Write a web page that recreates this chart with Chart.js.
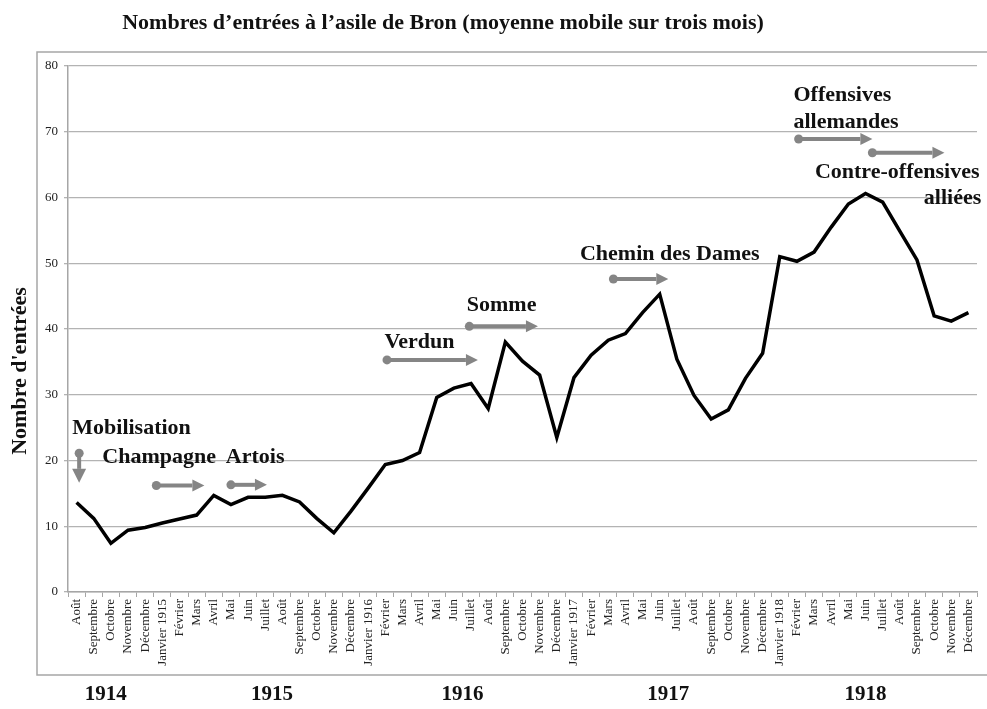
<!DOCTYPE html>
<html>
<head>
<meta charset="utf-8">
<script src="https://cdn.jsdelivr.net/npm/chart.js@4"></script>
<style>
  html, body { margin: 0; padding: 0; background: #fff; }
  #wrap { width: 987px; height: 709px; }
</style>
</head>
<body>
<div id="wrap"><canvas id="bronChart" width="987" height="709"></canvas></div>
<script>
// Months, Aug 1914 -> Dec 1918
const months = [
    'Août', 'Septembre', 'Octobre', 'Novembre', 'Décembre',
    'Janvier 1915', 'Février', 'Mars', 'Avril', 'Mai', 'Juin', 'Juillet', 'Août', 'Septembre', 'Octobre', 'Novembre', 'Décembre',
    'Janvier 1916', 'Février', 'Mars', 'Avril', 'Mai', 'Juin', 'Juillet', 'Août', 'Septembre', 'Octobre', 'Novembre', 'Décembre',
    'Janvier 1917', 'Février', 'Mars', 'Avril', 'Mai', 'Juin', 'Juillet', 'Août', 'Septembre', 'Octobre', 'Novembre', 'Décembre',
    'Janvier 1918', 'Février', 'Mars', 'Avril', 'Mai', 'Juin', 'Juillet', 'Août', 'Septembre', 'Octobre', 'Novembre', 'Décembre'
];

// three-month moving average of admissions
const entries = [
    13.6, 11.2, 7.4, 9.4, 9.8,
    10.5, 11.1, 11.7, 14.7, 13.3, 14.4, 14.4, 14.7, 13.7, 11.2, 9.0, 12.3,
    15.8, 19.4, 20.0, 21.2, 29.6, 31.0, 31.7, 27.9, 38.0, 35.1, 33.0, 23.5,
    32.6, 36.0, 38.3, 39.3, 42.5, 45.3, 35.4, 29.9, 26.3, 27.7, 32.5, 36.3,
    51.0, 50.3, 51.7, 55.5, 59.0, 60.6, 59.3, 54.9, 50.5, 42.0, 41.2, 42.5
];

const yTicks = [0, 10, 20, 30, 40, 50, 60, 70, 80];

// years under the axis, with the (fractional) month index they sit under
const years = ['1914', '1915', '1916', '1917', '1918'];
const yearPos = [1.7, 11.4, 22.5, 34.5, 46.0];

// military events: arrow start/end (month index) and level (entries)
const eventNames = ['Champagne', 'Artois', 'Verdun', 'Somme', 'Chemin des Dames', 'Offensives allemandes', 'Contre-offensives alliées'];
const eventStart = [4.65, 9.0, 18.1, 22.9, 31.3, 42.1, 46.4];
const eventEnd = [7.45, 11.1, 23.4, 26.9, 34.5, 46.4, 50.6];
const eventLevel = [16.2, 16.3, 35.3, 40.4, 47.6, 68.9, 66.8];
// mobilisation: vertical arrow at Aug 1914
const mobilIndex = 0.15;
const mobilFrom = 21.1;
const mobilTo = 16.6;

// text blocks for the events: [text, month index, level, align]
const eventTexts = [
    ['Mobilisation', -0.25, 24.9, 'left'],
    ['Champagne', 1.5, 20.5, 'left'],
    ['Artois', 8.7, 20.5, 'left'],
    ['Verdun', 17.95, 37.9, 'left'],
    ['Somme', 22.75, 43.6, 'left'],
    ['Chemin des Dames', 29.35, 51.4, 'left'],
    ['Offensives', 41.8, 75.5, 'left'],
    ['allemandes', 41.8, 71.4, 'left'],
    ['Contre-offensives', 43.05, 63.9, 'left'],
    ['alliées', 52.75, 59.9, 'right']
];

const SERIF = '"Liberation Serif", "Times New Roman", serif';
const ARROW = '#858585';

function drawArrow(ctx, x1, y1, x2, y2, head, half) {
    const ang = Math.atan2(y2 - y1, x2 - x1);
    const bx = x2 - head * Math.cos(ang), by = y2 - head * Math.sin(ang);
    ctx.save();
    ctx.strokeStyle = ARROW;
    ctx.fillStyle = ARROW;
    ctx.lineWidth = 4;
    ctx.beginPath();
    ctx.moveTo(x1, y1);
    ctx.lineTo(bx, by);
    ctx.stroke();
    ctx.beginPath();
    ctx.arc(x1, y1, 4.5, 0, Math.PI * 2);
    ctx.fill();
    ctx.beginPath();
    ctx.moveTo(x2, y2);
    ctx.lineTo(bx - half * Math.sin(ang), by + half * Math.cos(ang));
    ctx.lineTo(bx + half * Math.sin(ang), by - half * Math.cos(ang));
    ctx.closePath();
    ctx.fill();
    ctx.restore();
}

// px position of a fractional category index
function idxToX(xs, i) {
    const a = xs.getPixelForValue(0), b = xs.getPixelForValue(1);
    return a + (b - a) * i;
}

const decorations = {
    id: 'decorations',
    beforeDraw(chart) {
        const ctx = chart.ctx;
        ctx.save();
        ctx.fillStyle = '#fff';
        ctx.fillRect(0, 0, chart.width, chart.height);
        // outer frame
        ctx.strokeStyle = '#a6a6a6';
        ctx.lineWidth = 1.5;
        ctx.beginPath();
        ctx.moveTo(chart.width, 52);
        ctx.lineTo(37, 52);
        ctx.lineTo(37, 675);
        ctx.lineTo(chart.width, 675);
        ctx.stroke();
        ctx.restore();
    },
    afterDraw(chart) {
        const ctx = chart.ctx;
        const xs = chart.scales.x, ys = chart.scales.y;
        ctx.save();
        ctx.fillStyle = '#111';
        ctx.textBaseline = 'middle';

        // title
        ctx.font = 'bold 22px ' + SERIF;
        ctx.textAlign = 'center';
        ctx.fillText('Nombres d’entrées à l’asile de Bron (moyenne mobile sur trois mois)', 443, 23);

        // y axis title
        ctx.save();
        ctx.translate(20, 371);
        ctx.rotate(-Math.PI / 2);
        ctx.font = 'bold 22px ' + SERIF;
        ctx.fillText('Nombre d\'entrées', 0, 0);
        ctx.restore();

        // years
        ctx.font = 'bold 21px ' + SERIF;
        years.forEach((y, i) => {
            ctx.fillText(y, idxToX(xs, yearPos[i]), 695);
        });

        // event arrows
        eventNames.forEach((n, i) => {
            const yy = ys.getPixelForValue(eventLevel[i]);
            drawArrow(ctx, idxToX(xs, eventStart[i]), yy, idxToX(xs, eventEnd[i]), yy, 12, 6);
        });
        const mx = idxToX(xs, mobilIndex);
        drawArrow(ctx, mx, ys.getPixelForValue(mobilFrom), mx, ys.getPixelForValue(mobilTo), 14, 7);

        // event texts
        ctx.font = 'bold 22px ' + SERIF;
        ctx.fillStyle = '#111';
        eventTexts.forEach(t => {
            ctx.textAlign = t[3];
            ctx.fillText(t[0], idxToX(xs, t[1]), ys.getPixelForValue(t[2]));
        });
        ctx.restore();
    }
};

new Chart(document.getElementById('bronChart'), {
    type: 'line',
    data: {
        labels: months,
        datasets: [{
            label: 'Entrées',
            data: entries,
            borderColor: '#000',
            borderWidth: 3.5,
            pointRadius: 0,
            tension: 0,
            fill: false
        }]
    },
    options: {
        responsive: false,
        animation: false,
        devicePixelRatio: 1,
        layout: { padding: { left: 0, right: 10, top: 66, bottom: 0 } },
        plugins: {
            legend: { display: false },
            tooltip: { enabled: false }
        },
        scales: {
            x: {
                offset: true,
                afterFit: s => { s.height = 117; },
                grid: {
                    offset: true,
                    drawOnChartArea: false,
                    color: '#a6a6a6',
                    tickLength: 5,
                    lineWidth: 1
                },
                border: { color: '#a6a6a6', width: 1.5 },
                ticks: {
                    autoSkip: false,
                    minRotation: 90,
                    maxRotation: 90,
                    padding: 2,
                    color: '#222',
                    font: { family: SERIF, size: 13 }
                }
            },
            y: {
                min: 0,
                max: 80,
                afterFit: s => { s.width = 68; },
                afterBuildTicks: s => { s.ticks = yTicks.map(v => ({ value: v })); },
                grid: {
                    color: '#b3b3b3',
                    lineWidth: 1.3,
                    tickLength: 4
                },
                border: { color: '#a6a6a6', width: 1.5 },
                ticks: {
                    padding: 6,
                    color: '#222',
                    font: { family: SERIF, size: 13 }
                }
            }
        }
    },
    plugins: [decorations]
});
</script>
</body>
</html>
